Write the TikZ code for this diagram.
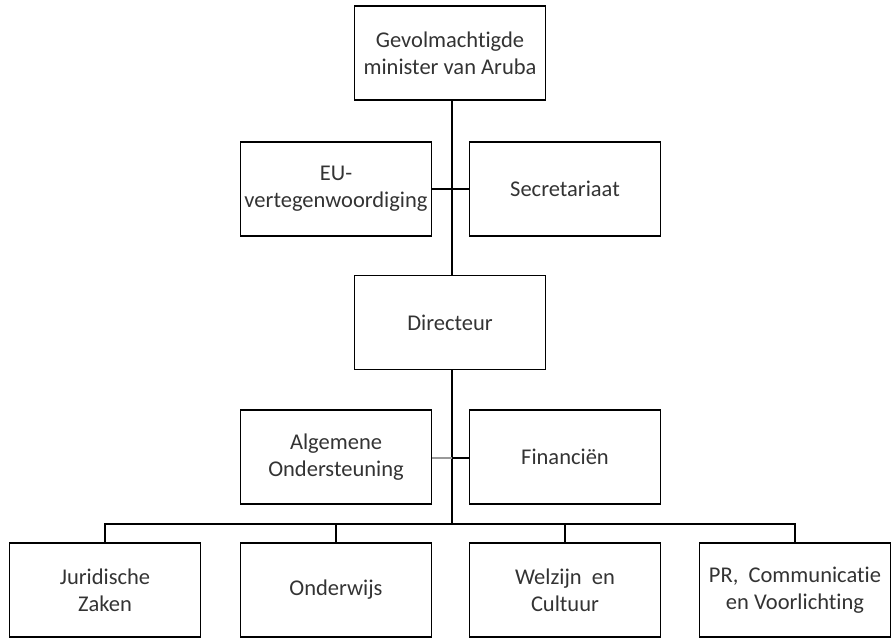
\documentclass[tikz,border=0pt]{standalone}
\usepackage{fontspec}
\setmainfont[Ligatures=NoCommon]{Carlito}
\begin{document}
\begin{tikzpicture}[x=1pt,y=-1pt,
  box/.style={draw=black, line width=1.3pt, minimum width=191pt, minimum height=94pt, inner sep=0pt, align=center, font=\fontsize{22.5}{27}\selectfont, text=black!80},
  conn/.style={draw=black, line width=1.3pt},
  lightconn/.style={draw=black!40, line width=1.1pt}]
\useasboundingbox (0,0) rectangle (891,638);
\node[box] (min) at (450,53) {Gevolmachtigde\\minister van Aruba};
\node[box] (eu) at (336,189) {EU-\\vertegenwoordiging};
\node[box] (sec) at (565,189) {Secretariaat};
\node[box] (dir) at (450,322.5) {Directeur};
\node[box] (alg) at (336,457) {Algemene\\Ondersteuning};
\node[box] (fin) at (565,457) {Financiën};
\node[box] (jur) at (105,590) {Juridische\\Zaken};
\node[box] (ond) at (336,590) {Onderwijs};
\node[box] (wel) at (565,590) {Welzijn\ \ en\\Cultuur};
\node[box] (pr) at (795,590) {PR,\ \ Communicatie\\en Voorlichting};
\coordinate (j1) at (452,189);
\coordinate (j2) at (452,458);
\coordinate (bus) at (452,524);
\draw[conn] (min.south -| j1) -- (dir.north -| j1);
\draw[conn] (eu.east) -- (j1) -- (sec.west);
\draw[conn] (dir.south -| j1) -- (bus);
\draw[lightconn] (alg.east |- j2) -- (j2);
\draw[conn] (j2) -- (fin.west |- j2);
\draw[conn] (jur.north) |- (bus) -| (pr.north);
\draw[conn] (ond.north) -- (ond.north |- bus);
\draw[conn] (wel.north) -- (wel.north |- bus);
\end{tikzpicture}
\end{document}
